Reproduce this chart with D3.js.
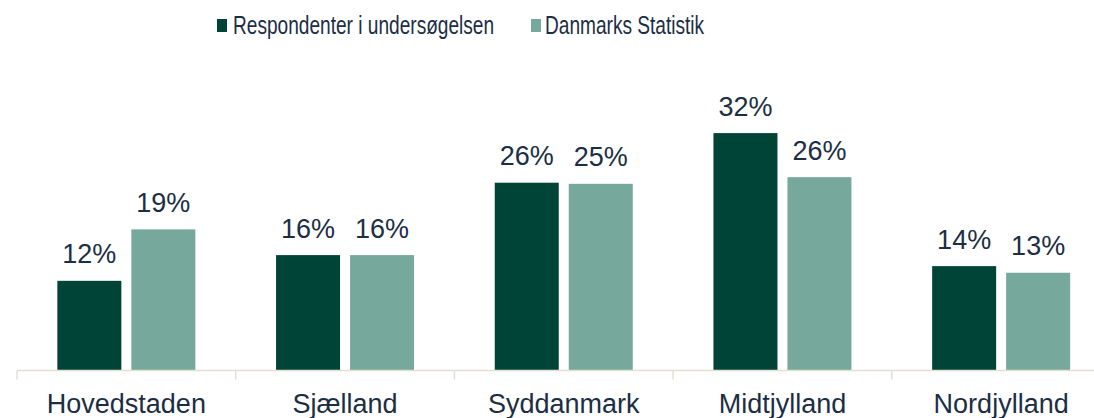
<!DOCTYPE html>
<html>
<head>
<meta charset="utf-8">
<script src="https://cdn.jsdelivr.net/npm/d3@7"></script>
<style>
  html, body { margin: 0; padding: 0; background: #fff; }
  svg { display: block; font-family: "Liberation Sans", Arial, sans-serif; }
</style>
</head>
<body>
<script>
'use strict';

const categories = ['Hovedstaden', 'Sjælland', 'Syddanmark', 'Midtjylland', 'Nordjylland'];
const seriesNames = ['Respondenter i undersøgelsen', 'Danmarks Statistik'];
const respondenter = [12.2, 15.7, 25.55, 32.3, 14.2];
const danmarksStatistik = [19.2, 15.7, 25.4, 26.3, 13.3];

const colors = ['#004438', '#76a99b'];
const textColor = '#1c2e44';

const width = 1094, height = 418;

const svg = d3.select('body').append('svg')
  .attr('width', width).attr('height', height)
  .attr('viewBox', `0 0 ${width} ${height}`);

// scales
const x0 = d3.scaleBand()
  .domain(categories)
  .range([17, 17 + 5 * 218.7])
  .paddingInner(0).paddingOuter(0);

const groupW = 138;
const x1 = d3.scaleBand()
  .domain(seriesNames)
  .range([(x0.bandwidth() - groupW) / 2, (x0.bandwidth() + groupW) / 2])
  .paddingInner(10 / 74).paddingOuter(0);

const baseY = 370.5;
const y = d3.scaleLinear()
  .domain([0, 40])
  .range([baseY, baseY - 7.35 * 40]);

// legend (text is drawn horizontally condensed like the original)
const legend = svg.append('g').attr('class', 'legend');
const legendItems = [
  { name: seriesNames[0], x: 217, textX: 233 },
  { name: seriesNames[1], x: 531, textX: 545 }
];
legendItems.forEach((item, i) => {
  legend.append('rect')
    .attr('x', item.x).attr('y', 19)
    .attr('width', 10).attr('height', 13)
    .attr('fill', colors[i]);
  legend.append('text')
    .attr('transform', `translate(${item.textX},34) scale(0.735,1)`)
    .attr('font-size', 26)
    .attr('fill', textColor)
    .text(item.name);
});

// bars
const rows = categories.map((c, i) => ({
  category: c,
  values: [
    { series: seriesNames[0], value: respondenter[i], color: colors[0] },
    { series: seriesNames[1], value: danmarksStatistik[i], color: colors[1] }
  ]
}));

const groups = svg.append('g').attr('class', 'bars')
  .selectAll('g')
  .data(rows)
  .join('g')
    .attr('transform', d => `translate(${x0(d.category)},0)`);

groups.selectAll('rect')
  .data(d => d.values)
  .join('rect')
    .attr('x', d => x1(d.series))
    .attr('y', d => y(d.value))
    .attr('width', x1.bandwidth())
    .attr('height', d => baseY - y(d.value))
    .attr('fill', d => d.color);

groups.selectAll('text')
  .data(d => d.values)
  .join('text')
    .attr('x', d => x1(d.series) + x1.bandwidth() / 2)
    .attr('y', d => y(d.value) - 17.5)
    .attr('text-anchor', 'middle')
    .attr('font-size', 27)
    .attr('fill', textColor)
    .text(d => Math.round(d.value) + '%');

// axis
const axisColor = '#e4dfd3';
const axis = svg.append('g').attr('class', 'x-axis');
axis.append('line')
  .attr('x1', x0.range()[0]).attr('x2', x0.range()[1])
  .attr('y1', baseY).attr('y2', baseY)
  .attr('stroke', axisColor).attr('stroke-width', 1.5);

const boundaries = categories.map(c => x0(c)).concat([x0.range()[1]]);
axis.selectAll('line.tick')
  .data(boundaries)
  .join('line')
    .attr('class', 'tick')
    .attr('x1', d => d).attr('x2', d => d)
    .attr('y1', baseY).attr('y2', baseY + 9)
    .attr('stroke', axisColor).attr('stroke-width', 1.5);

axis.selectAll('text')
  .data(categories)
  .join('text')
    .attr('x', d => x0(d) + x0.bandwidth() / 2)
    .attr('y', 413)
    .attr('text-anchor', 'middle')
    .attr('font-size', 27)
    .attr('fill', textColor)
    .text(d => d);
</script>
</body>
</html>
